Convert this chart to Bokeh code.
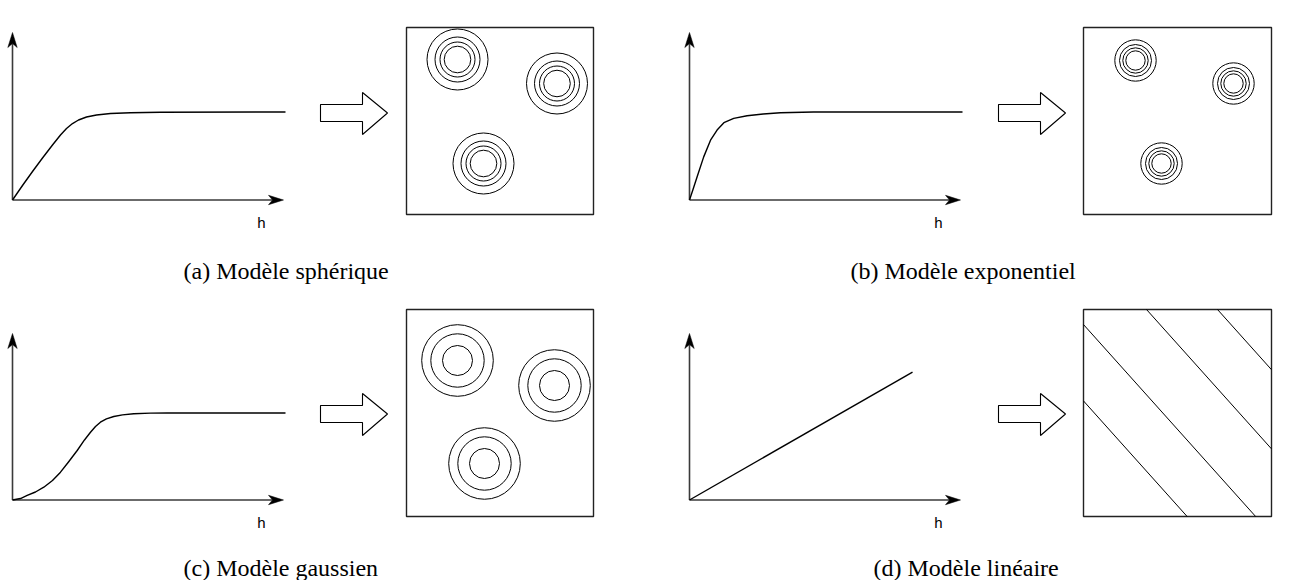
import numpy as np
from bokeh.plotting import figure
from bokeh.models import Range1d
from bokeh.core.properties import value
from bokeh.embed import file_html
from bokeh.resources import INLINE

# ---------------- data ----------------
# variogram curves: lag h (0..10) and semivariance (sill = 1)
sph_h = [0, 0.366, 0.733, 1.099, 1.465, 1.758, 1.978, 2.198, 2.418, 2.711, 3.077, 3.59, 4.32, 5.42, 10]
sph_g = [0, 0.165, 0.324, 0.477, 0.625, 0.739, 0.813, 0.869, 0.909, 0.943, 0.966, 0.983, 0.992, 0.997, 1.0]
exp_h = [0, 0.128, 0.28, 0.52, 0.77, 1.01, 1.26, 1.62, 2.11, 2.70, 3.33, 4.54, 10]
exp_g = [0, 0.119, 0.265, 0.49, 0.68, 0.795, 0.878, 0.928, 0.958, 0.978, 0.992, 1.0, 1.0]
gau_h = [0, 0.293, 0.538, 0.842, 1.147, 1.465, 1.758, 2.051, 2.37, 2.637, 2.857, 3.04, 3.22, 3.44, 3.71,
         4.03, 4.44, 5.05, 5.67, 10]
gau_g = [0, 0.017, 0.052, 0.092, 0.147, 0.224, 0.320, 0.437, 0.569, 0.690, 0.779, 0.845, 0.894, 0.933,
         0.960, 0.979, 0.991, 0.999, 1.0, 1.0]
lin_h = [0, 8.17]
lin_g = [0, 1.47]

# simulated fields: spot centres (field px from top-left) and contour radii
sph_cx = [51, 150.5, 77]
sph_cy = [32, 56, 136]
sph_r = [30.5, 22.5, 17.5, 13.3]
exp_cx = [52, 150, 78]
exp_cy = [33, 56, 136]
exp_r = [20.7, 16.0, 12.7, 9.7]
gau_cx = [51, 148, 78]
gau_cy = [51, 76, 154]
gau_r = [35.8, 26.7, 15.0]
# linear trend: contour lines, offset along the top edge of the field
lin_levels = [-82, -13.5, 63, 134]
lin_slope = 1.115

captions = ["(a) Modèle sphérique", "(b) Modèle exponentiel",
            "(c) Modèle gaussien", "(d) Modèle linéaire"]
axis_label = "h"

# ---------------- layout ----------------
W, H = 1291, 580
p = figure(width=W, height=H, x_range=Range1d(0, W), y_range=Range1d(H, 0),
           output_backend="svg", toolbar_location=None, min_border=0)
p.axis.visible = False
p.grid.visible = False
p.outline_line_color = None
p.background_fill_color = "white"

panels = [
    dict(ox=12, oy=199.5, ytop=32, xtip=283, sx=27.3, sy=88, h=sph_h, g=sph_g,
         box=(406, 27, 593, 214), arrow=(320, 104), cap=(183, 270)),
    dict(ox=689, oy=199.5, ytop=32, xtip=960, sx=27.3, sy=88, h=exp_h, g=exp_g,
         box=(1083, 27, 1271, 214), arrow=(998, 104), cap=(850, 270)),
    dict(ox=12, oy=499.5, ytop=333, xtip=283, sx=27.3, sy=87, h=gau_h, g=gau_g,
         box=(406, 309, 593, 516), arrow=(320, 405), cap=(183, 567)),
    dict(ox=689, oy=499.5, ytop=333, xtip=960, sx=27.3, sy=87, h=lin_h, g=lin_g,
         box=(1083, 309, 1271, 516), arrow=(998, 405), cap=(873, 567)),
]
fields = [(sph_cx, sph_cy, sph_r), (exp_cx, exp_cy, exp_r), (gau_cx, gau_cy, gau_r), None]

AX = "#3a3a3a"
HL, HW, HN = 15, 4.7, 11  # arrowhead length, half width, notch

for i, pn in enumerate(panels):
    ox, oy = pn["ox"], pn["oy"]
    # axes
    p.line([ox, ox], [oy, pn["ytop"] + HN], line_color=AX, line_width=1.6)
    p.line([ox, pn["xtip"] - HN], [oy, oy], line_color=AX, line_width=1.6)
    p.patch([ox, ox - HW, ox, ox + HW],
            [pn["ytop"], pn["ytop"] + HL, pn["ytop"] + HN, pn["ytop"] + HL],
            fill_color="black", line_color="black", line_width=0.5)
    xt = pn["xtip"]
    p.patch([xt, xt - HL, xt - HN, xt - HL], [oy, oy - HW, oy, oy + HW],
            fill_color="black", line_color="black", line_width=0.5)
    p.text(x=[xt - 22], y=[oy + 22.5], text=[axis_label], text_font=value("Liberation Sans"),
           text_font_size="15px", text_align="center", text_baseline="alphabetic", text_color="black")
    # curve
    xs = [ox + h * pn["sx"] for h in pn["h"]]
    ys = [oy - g * pn["sy"] for g in pn["g"]]
    p.line(xs, ys, line_color="black", line_width=1.4, line_join="round")
    # block arrow
    ax, ay = pn["arrow"]
    p.patch([ax, ax + 42, ax + 42, ax + 67, ax + 42, ax + 42, ax],
            [ay, ay, ay - 12, ay + 8.5, ay + 30, ay + 17, ay + 17],
            fill_color="white", line_color="black", line_width=1.1)
    # field box
    x0, y0, x1, y1 = pn["box"]
    p.patch([x0, x1, x1, x0], [y0, y0, y1, y1], fill_color=None,
            line_color="#222222", line_width=1.4)
    f = fields[i]
    if f is not None:
        cx, cy, rr = f
        for r in rr:
            p.circle(x=[x0 + c for c in cx], y=[y0 + c for c in cy], radius=r,
                     fill_color=None, line_color="black", line_width=1.0)
    else:
        for L in lin_levels:
            xa = x0 + L
            if xa < x0:
                sxp, syp = x0, y0 + (x0 - xa) * lin_slope
            else:
                sxp, syp = xa, y0
            xb = xa + (y1 - y0) / lin_slope
            if xb > x1:
                exp_, eyp = x1, y0 + (x1 - xa) * lin_slope
            else:
                exp_, eyp = xb, y1
            p.line([sxp, exp_], [syp, eyp], line_color="black", line_width=1.0)
    # caption
    cx_, cy_ = pn["cap"]
    p.text(x=[cx_], y=[cy_], text=[captions[i]], text_font=value("Liberation Serif"),
           text_font_size="24px", text_align="left", text_baseline="alphabetic",
           text_color="black")

open("out.html", "w").write(file_html(p, INLINE))
